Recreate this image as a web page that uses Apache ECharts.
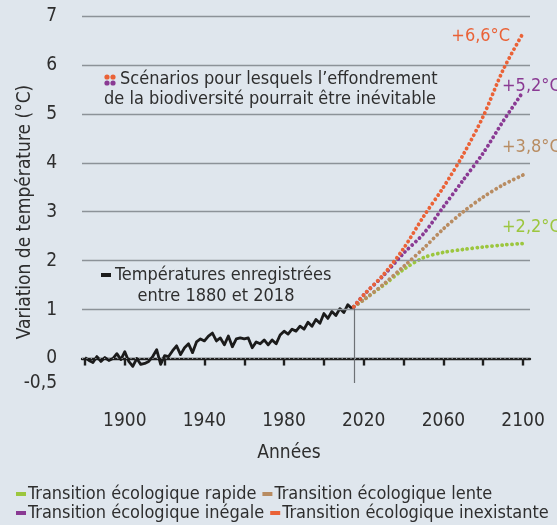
<!DOCTYPE html>
<html>
<head>
<meta charset="utf-8">
<script src="https://cdn.jsdelivr.net/npm/echarts@6/dist/echarts.min.js"></script>
<style>
html,body{margin:0;padding:0;background:#dfe6ed;}
#c{width:557px;height:525px;}
</style>
</head>
<body>
<div id="c"></div>
<script>
// ---- data ----
var histYears = [1880,1882,1884,1886,1888,1890,1892,1894,1896,1898,1900,1902,1904,1906,1908,1910,1912,1914,1916,1918,1920,1922,1924,1926,1928,1930,1932,1934,1936,1938,1940,1942,1944,1946,1948,1950,1952,1954,1956,1958,1960,1962,1964,1966,1968,1970,1972,1974,1976,1978,1980,1982,1984,1986,1988,1990,1992,1994,1996,1998,2000,2002,2004,2006,2008,2010,2012,2014,2015];
var histValues = [0.02,-0.04,-0.08,0.04,-0.06,0.02,-0.04,0.0,0.1,-0.02,0.14,-0.06,-0.16,0.0,-0.12,-0.1,-0.06,0.04,0.18,-0.12,0.06,0.04,0.16,0.26,0.08,0.22,0.3,0.12,0.34,0.4,0.36,0.46,0.52,0.36,0.42,0.28,0.46,0.24,0.4,0.42,0.4,0.42,0.22,0.34,0.3,0.38,0.28,0.38,0.3,0.48,0.56,0.5,0.6,0.56,0.66,0.6,0.74,0.66,0.8,0.72,0.92,0.82,0.96,0.88,1.02,0.94,1.1,1.02,1.06];
var scenYears = [2015,2020,2030,2040,2050,2060,2070,2080,2090,2100];
var rapide     = [1.06,1.2,1.5,1.82,2.06,2.17,2.23,2.28,2.32,2.35];
var lente      = [1.06,1.2,1.52,1.88,2.25,2.65,3.0,3.3,3.55,3.75];
var inegale    = [1.06,1.3,1.7,2.15,2.55,3.1,3.65,4.2,4.85,5.45];
var inexistante= [1.06,1.3,1.72,2.25,2.9,3.5,4.17,4.95,5.9,6.65];
var scenNames = ['Transition écologique rapide','Transition écologique lente','Transition écologique inégale','Transition écologique inexistante'];
var scenLabels = ['+2,2°C','+3,8°C','+5,2°C','+6,6°C'];
var scenColors = ['#9cc63e','#b88c62','#8a3a93','#ea6237'];
var xTicks = [1880,1900,1920,1940,1960,1980,2000,2020,2040,2060,2080,2100];
var xLabels = [1900,1940,1980,2020,2060,2100];
var yLabels = [-0.5,0,1,2,3,4,5,6,7];
var gridValues = [1,2,3,4,5,6,7];

var FONT = '"Liberation Sans Narrow","DejaVu Sans Condensed","Roboto",sans-serif';
var TXT = '#2e2e2e';

function pairs(xs, ys){ return xs.map(function(x,i){ return [x, ys[i]]; }); }

var chart = echarts.init(document.getElementById('c'), null, {renderer:'canvas'});
var scenData = [rapide, lente, inegale, inexistante];
var labelPos = [
  {position:[-21,-16], align:'left'},
  {position:[-21,-28], align:'left'},
  {position:[-21,-6], align:'left'},
  {position:[-13,3], align:'right'}
];

var series = [];
// helper series for gridlines
series.push({
  type:'line', data:[], z:1, silent:true,
  markLine:{
    silent:true, symbol:'none', animation:false,
    label:{show:false},
    lineStyle:{color:'#8c9298', width:1.4, type:'solid'},
    data: gridValues.map(function(v){ return {yAxis:v}; }).concat([
      {yAxis:0, lineStyle:{color:'#9aa0a6', width:1.2, type:[1.2,3.2]}}
    ])
  }
});
series.push({
  name:'Températures enregistrées', type:'line', z:3,
  data: pairs(histYears, histValues),
  showSymbol:false, symbol:'none',
  lineStyle:{color:'#1b1b1b', width:2.8, join:'round'},
  markLine:{
    silent:true, symbol:'none', animation:false, label:{show:false},
    lineStyle:{color:'#6d7176', width:1.2, type:'solid'},
    data:[[
      {coord:[histYears[histYears.length-1], histValues[histValues.length-1]]},
      {coord:[histYears[histYears.length-1], yLabels[0]]}
    ]]
  }
});
scenNames.forEach(function(n, i){
  series.push({
    name:n, type:'line', z:4+(i), smooth:0.3,
    data: pairs(scenYears, scenData[i]),
    showSymbol:false, symbol:'none',
    color: scenColors[i],
    itemStyle:{color:scenColors[i]},
    lineStyle:{color:scenColors[i], width:3.8, type:[0.1,4.9], cap:'round'},
    markPoint:{
      symbol:'circle', symbolSize:0, silent:true, animation:false,
      data:[{coord:[scenYears[scenYears.length-1], scenData[i][scenData[i].length-1]]}],
      label:{show:true, formatter:scenLabels[i], position:labelPos[i].position,
        align:labelPos[i].align, verticalAlign:'middle',
        color:scenColors[i], fontFamily:FONT, fontSize:18}
    }
  });
});

var legendText = {fontFamily:FONT, fontSize:18, color:TXT, padding:[0,0,0,-3]};
var option = {
  backgroundColor:'#dfe6ed',
  animation:false,
  textStyle:{fontFamily:FONT},
  grid:{left:82, right:27, top:16, bottom:142, containLabel:false},
  legend:[
    {data:[scenNames[0], scenNames[1]], left:16, top:485, width:800, icon:'rect', itemWidth:10, itemHeight:4, itemGap:6,
     padding:0, textStyle:legendText, itemStyle:{borderWidth:0}, selectedMode:false},
    {data:[scenNames[2], scenNames[3]], left:16, top:504, width:800, icon:'rect', itemWidth:10, itemHeight:4, itemGap:6,
     padding:0, textStyle:legendText, itemStyle:{borderWidth:0}, selectedMode:false}
  ],
  xAxis:{
    type:'value', min:1878.5, max:2103.5,
    name:'Années', nameLocation:'middle', nameGap:61,
    nameTextStyle:{fontFamily:FONT, fontSize:19, color:TXT, padding:[0,34,0,0]},
    axisLine:{show:true, lineStyle:{color:'#1f1f1f', width:2.4}},
    axisTick:{show:true, customValues:xTicks, length:7, lineStyle:{color:'#1f1f1f', width:2.4}},
    axisLabel:{customValues:xLabels, margin:29, fontFamily:FONT, fontSize:19, color:TXT,
      formatter:function(v){ return String(v); }},
    splitLine:{show:false}
  },
  yAxis:{
    type:'value', min:-0.5, max:7,
    axisLine:{show:false}, axisTick:{show:false},
    axisLabel:{customValues:yLabels, margin:25, fontFamily:FONT, fontSize:19, color:TXT,
      formatter:function(v){ return String(v).replace('.', ','); }},
    splitLine:{show:false}
  },
  graphic:[
    {type:'text', x:25, y:212, rotation:Math.PI/2,
      style:{text:'Variation de température (°C)', fontFamily:FONT, fontSize:19, fill:TXT, align:'center', verticalAlign:'middle'}},
    // scenario icon
    {type:'circle', shape:{cx:107, cy:77, r:2.6}, style:{fill:'#ea6237'}},
    {type:'circle', shape:{cx:113, cy:77, r:2.6}, style:{fill:'#ea6237'}},
    {type:'circle', shape:{cx:107, cy:83, r:2.6}, style:{fill:'#8a3a93'}},
    {type:'circle', shape:{cx:113, cy:83, r:2.6}, style:{fill:'#8a3a93'}},
    {type:'text', x:120, y:79, style:{text:'Scénarios pour lesquels l’effondrement', fontFamily:FONT, fontSize:18, fill:TXT, verticalAlign:'middle'}},
    {type:'text', x:104, y:99, style:{text:'de la biodiversité pourrait être inévitable', fontFamily:FONT, fontSize:18, fill:TXT, verticalAlign:'middle'}},
    // recorded temps icon
    {type:'rect', shape:{x:101, y:273, width:10, height:4}, style:{fill:'#1b1b1b'}},
    {type:'text', x:115, y:275, style:{text:'Températures enregistrées', fontFamily:FONT, fontSize:18, fill:TXT, verticalAlign:'middle'}},
    {type:'text', x:216, y:296, style:{text:'entre 1880 et 2018', fontFamily:FONT, fontSize:18, fill:TXT, align:'center', verticalAlign:'middle'}}
  ],
  series:series
};
chart.setOption(option);
</script>
</body>
</html>
